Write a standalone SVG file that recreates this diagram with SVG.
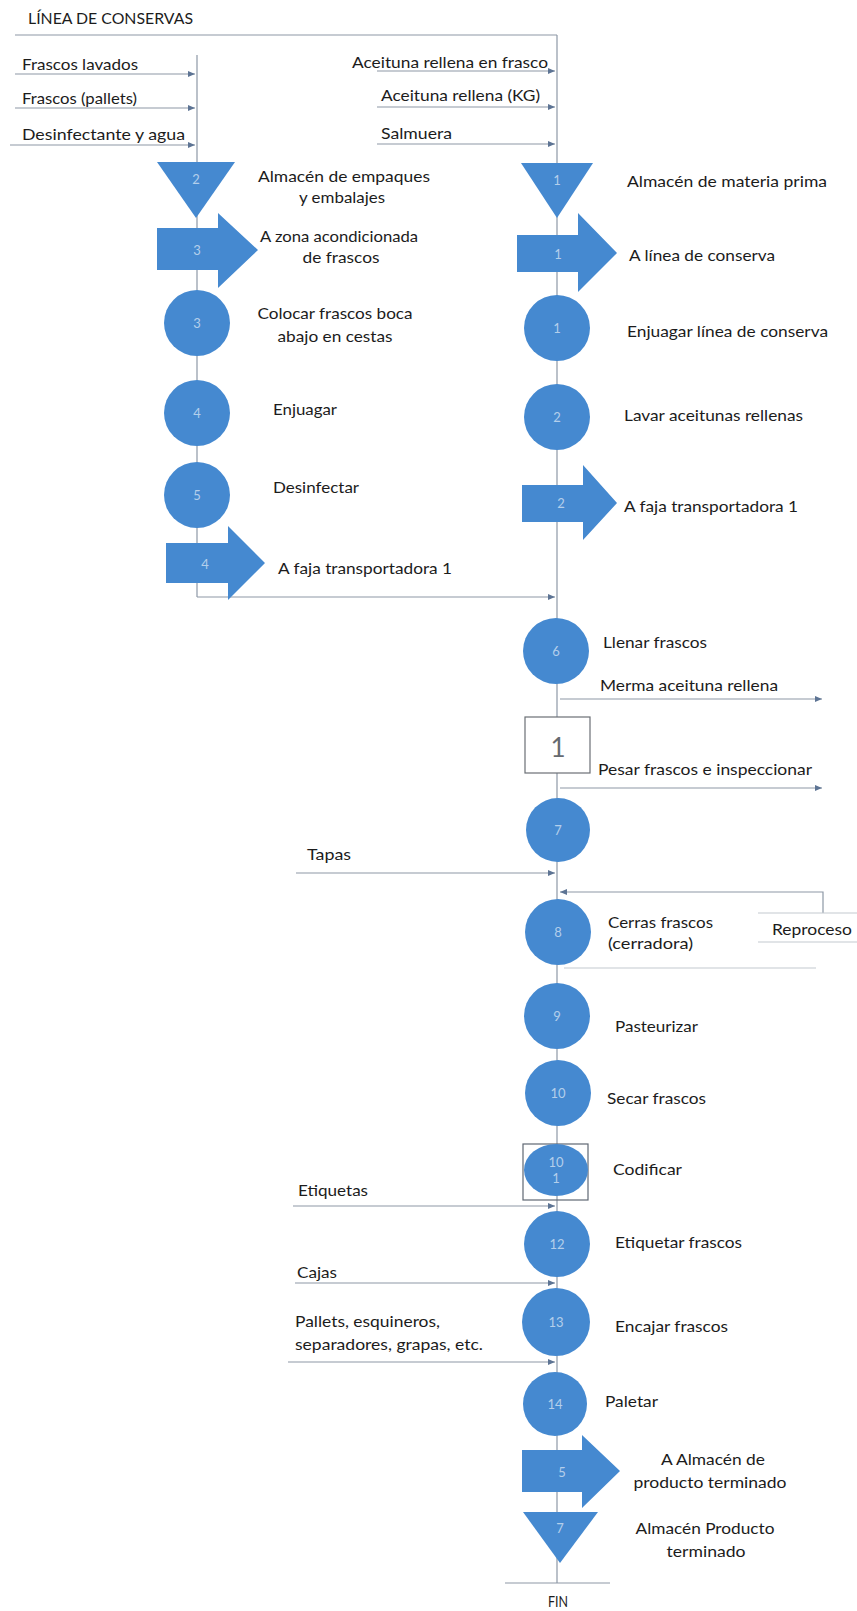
<svg xmlns="http://www.w3.org/2000/svg" width="857" height="1611" viewBox="0 0 857 1611">
  <style>
    .shape { fill: #4589d0; }
    .num { fill: #ffffff; fill-opacity: 0.6; font-family: Lato, "Liberation Sans", sans-serif; font-size: 13px; text-anchor: middle; dominant-baseline: central; }
    .lbl { fill: #1c1c1c; font-family: Lato, "Liberation Sans", sans-serif; font-size: 15px; }
    .mid { text-anchor: middle; }
    .conn { stroke: #8d98a6; stroke-width: 1.2; fill: none; }
    .flow { stroke: #8d98a6; stroke-width: 1.2; fill: none; marker-end: url(#tip); }
    .faint { stroke: #c4c9cf; stroke-width: 1.2; fill: none; }
  </style>
  <defs>
    <marker id="tip" markerUnits="userSpaceOnUse" markerWidth="7" markerHeight="7" refX="7" refY="3.5" orient="auto">
      <path d="M0,0.5 L7,3.5 L0,6.5 z" fill="#5d7494"/>
    </marker>
  </defs>

  <rect width="857" height="1611" fill="#ffffff"/>

  <!-- title -->
  <text class="lbl" x="28" y="24" textLength="165" lengthAdjust="spacingAndGlyphs">LÍNEA DE CONSERVAS</text>

  <!-- flow lines -->
  <g id="connectors">
    <line class="conn" x1="15" y1="35" x2="557" y2="35"/>
    <line class="conn" x1="197" y1="55" x2="197" y2="597"/>
    <line class="conn" x1="557" y1="35" x2="557" y2="1583"/>
    <line class="conn" x1="505" y1="1583" x2="610" y2="1583"/>

    <!-- inputs, left column -->
    <line class="flow" x1="15" y1="74" x2="195" y2="74"/>
    <line class="flow" x1="15" y1="108" x2="195" y2="108"/>
    <line class="flow" x1="10" y1="145" x2="195" y2="145"/>
    <!-- inputs, right column -->
    <line class="flow" x1="377" y1="71" x2="555" y2="71"/>
    <line class="flow" x1="377" y1="107" x2="555" y2="107"/>
    <line class="flow" x1="377" y1="144" x2="555" y2="144"/>

    <!-- jars join the main line -->
    <line class="flow" x1="197" y1="597" x2="555" y2="597"/>

    <!-- outputs -->
    <line class="flow" x1="560" y1="699" x2="822" y2="699"/>
    <line class="flow" x1="560" y1="788" x2="822" y2="788"/>

    <!-- reprocess loop -->
    <polyline class="flow" points="823,913 823,892 560,892"/>
    <line class="faint" x1="564" y1="968" x2="816" y2="968"/>

    <!-- packaging inputs -->
    <line class="flow" x1="296" y1="873" x2="555" y2="873"/>
    <line class="flow" x1="293" y1="1206" x2="555" y2="1206"/>
    <line class="flow" x1="295" y1="1283" x2="555" y2="1283"/>
    <line class="flow" x1="288" y1="1362" x2="555" y2="1362"/>
  </g>

  <!-- input labels -->
  <g id="inputs">
    <text class="lbl" x="22" y="70" textLength="116" lengthAdjust="spacingAndGlyphs">Frascos lavados</text>
    <text class="lbl" x="22" y="104" textLength="115" lengthAdjust="spacingAndGlyphs">Frascos (pallets)</text>
    <text class="lbl" x="22" y="140" textLength="163" lengthAdjust="spacingAndGlyphs">Desinfectante y agua</text>
    <text class="lbl" x="352" y="68" textLength="196" lengthAdjust="spacingAndGlyphs">Aceituna rellena en frasco</text>
    <text class="lbl" x="381" y="101" textLength="159" lengthAdjust="spacingAndGlyphs">Aceituna rellena (KG)</text>
    <text class="lbl" x="381" y="139" textLength="71" lengthAdjust="spacingAndGlyphs">Salmuera</text>
    <text class="lbl" x="307" y="860" textLength="44" lengthAdjust="spacingAndGlyphs">Tapas</text>
    <text class="lbl" x="298" y="1196" textLength="70" lengthAdjust="spacingAndGlyphs">Etiquetas</text>
    <text class="lbl" x="297" y="1278" textLength="40" lengthAdjust="spacingAndGlyphs">Cajas</text>
    <text class="lbl" x="295" y="1327" textLength="145" lengthAdjust="spacingAndGlyphs">Pallets, esquineros,</text>
    <text class="lbl" x="295" y="1350" textLength="188" lengthAdjust="spacingAndGlyphs">separadores, grapas, etc.</text>
  </g>

  <!-- left column: jars -->
  <g id="store-2">
    <polygon class="shape" points="157,162 235,162 196,218"/>
    <text class="num" x="196" y="179">2</text>
    <text class="lbl mid" x="344" y="182" textLength="172" lengthAdjust="spacingAndGlyphs">Almacén de empaques</text>
    <text class="lbl mid" x="342" y="203" textLength="86" lengthAdjust="spacingAndGlyphs">y embalajes</text>
  </g>
  <g id="move-3">
    <path class="shape" d="M157,228 H218 V213 L258,250 L218,288 V270 H157 Z"/>
    <text class="num" x="197" y="250">3</text>
    <text class="lbl mid" x="339" y="242" textLength="158" lengthAdjust="spacingAndGlyphs">A zona acondicionada</text>
    <text class="lbl mid" x="341" y="263" textLength="77" lengthAdjust="spacingAndGlyphs">de frascos</text>
  </g>
  <g id="op-3">
    <circle class="shape" cx="197" cy="323" r="33"/>
    <text class="num" x="197" y="323">3</text>
    <text class="lbl mid" x="335" y="319" textLength="155" lengthAdjust="spacingAndGlyphs">Colocar frascos boca</text>
    <text class="lbl mid" x="335" y="342" textLength="115" lengthAdjust="spacingAndGlyphs">abajo en cestas</text>
  </g>
  <g id="op-4">
    <circle class="shape" cx="197" cy="413" r="33"/>
    <text class="num" x="197" y="413">4</text>
    <text class="lbl" x="273" y="415" textLength="64" lengthAdjust="spacingAndGlyphs">Enjuagar</text>
  </g>
  <g id="op-5">
    <circle class="shape" cx="197" cy="495" r="33"/>
    <text class="num" x="197" y="495">5</text>
    <text class="lbl" x="273" y="493" textLength="86" lengthAdjust="spacingAndGlyphs">Desinfectar</text>
  </g>
  <g id="move-4">
    <path class="shape" d="M166,543 H228 V526 L265,563 L228,600 V583 H166 Z"/>
    <text class="num" x="205" y="564">4</text>
    <text class="lbl" x="278" y="574" textLength="174" lengthAdjust="spacingAndGlyphs">A faja transportadora 1</text>
  </g>

  <!-- right column: olives -->
  <g id="store-1">
    <polygon class="shape" points="521,163 593,163 557,218"/>
    <text class="num" x="557" y="180">1</text>
    <text class="lbl" x="627" y="187" textLength="200" lengthAdjust="spacingAndGlyphs">Almacén de materia prima</text>
  </g>
  <g id="move-1">
    <path class="shape" d="M517,235 H578 V213 L617,253 L578,292 V272 H517 Z"/>
    <text class="num" x="558" y="254">1</text>
    <text class="lbl" x="629" y="261" textLength="146" lengthAdjust="spacingAndGlyphs">A línea de conserva</text>
  </g>
  <g id="op-1">
    <circle class="shape" cx="557" cy="328" r="33"/>
    <text class="num" x="557" y="328">1</text>
    <text class="lbl" x="627" y="337" textLength="201" lengthAdjust="spacingAndGlyphs">Enjuagar línea de conserva</text>
  </g>
  <g id="op-2">
    <circle class="shape" cx="557" cy="417" r="33"/>
    <text class="num" x="557" y="417">2</text>
    <text class="lbl" x="624" y="421" textLength="179" lengthAdjust="spacingAndGlyphs">Lavar aceitunas rellenas</text>
  </g>
  <g id="move-2">
    <path class="shape" d="M522,485 H583 V465 L617,503 L583,540 V522 H522 Z"/>
    <text class="num" x="561" y="503">2</text>
    <text class="lbl" x="624" y="512" textLength="174" lengthAdjust="spacingAndGlyphs">A faja transportadora 1</text>
  </g>

  <!-- main line -->
  <g id="op-6">
    <circle class="shape" cx="556" cy="651" r="33"/>
    <text class="num" x="556" y="651">6</text>
    <text class="lbl" x="603" y="648" textLength="104" lengthAdjust="spacingAndGlyphs">Llenar frascos</text>
  </g>
  <g id="waste">
    <text class="lbl" x="600" y="691" textLength="178" lengthAdjust="spacingAndGlyphs">Merma aceituna rellena</text>
  </g>
  <g id="insp-1">
    <rect x="525" y="717" width="65" height="56" fill="#ffffff" stroke="#6b6f75" stroke-width="1.2"/>
    <text x="558" y="747" fill="#666a70" font-family="Lato, 'Liberation Sans', sans-serif" font-size="26" text-anchor="middle" dominant-baseline="central">1</text>
    <text class="lbl" x="598" y="775" textLength="214" lengthAdjust="spacingAndGlyphs">Pesar frascos e inspeccionar</text>
  </g>
  <g id="op-7">
    <circle class="shape" cx="558" cy="830" r="32"/>
    <text class="num" x="558" y="830">7</text>
  </g>
  <g id="op-8">
    <circle class="shape" cx="558" cy="932" r="33"/>
    <text class="num" x="558" y="932">8</text>
    <text class="lbl" x="608" y="928" textLength="105" lengthAdjust="spacingAndGlyphs">Cerras frascos</text>
    <text class="lbl" x="608" y="949" textLength="85" lengthAdjust="spacingAndGlyphs">(cerradora)</text>
  </g>
  <g id="reprocess">
    <line class="faint" x1="758" y1="913" x2="857" y2="913"/>
    <line class="faint" x1="758" y1="942" x2="857" y2="942"/>
    <text class="lbl" x="772" y="935" textLength="80" lengthAdjust="spacingAndGlyphs">Reproceso</text>
  </g>
  <g id="op-9">
    <circle class="shape" cx="557" cy="1016" r="33"/>
    <text class="num" x="557" y="1016">9</text>
    <text class="lbl" x="615" y="1032" textLength="83" lengthAdjust="spacingAndGlyphs">Pasteurizar</text>
  </g>
  <g id="op-10">
    <circle class="shape" cx="558" cy="1093" r="33"/>
    <text class="num" x="558" y="1093">10</text>
    <text class="lbl" x="607" y="1104" textLength="99" lengthAdjust="spacingAndGlyphs">Secar frascos</text>
  </g>
  <g id="op-insp-11">
    <rect x="523" y="1144" width="65" height="56" fill="none" stroke="#5f6873" stroke-width="1.2"/>
    <ellipse class="shape" cx="556" cy="1170" rx="32" ry="26"/>
    <text class="num" x="556" y="1162" font-size="10">10</text>
    <text class="num" x="556" y="1178" font-size="10">1</text>
    <text class="lbl" x="613" y="1175" textLength="69" lengthAdjust="spacingAndGlyphs">Codificar</text>
  </g>
  <g id="op-12">
    <circle class="shape" cx="557" cy="1244" r="33"/>
    <text class="num" x="557" y="1244">12</text>
    <text class="lbl" x="615" y="1248" textLength="127" lengthAdjust="spacingAndGlyphs">Etiquetar frascos</text>
  </g>
  <g id="op-13">
    <circle class="shape" cx="556" cy="1322" r="34"/>
    <text class="num" x="556" y="1322">13</text>
    <text class="lbl" x="615" y="1332" textLength="113" lengthAdjust="spacingAndGlyphs">Encajar frascos</text>
  </g>
  <g id="op-14">
    <circle class="shape" cx="555" cy="1404" r="32"/>
    <text class="num" x="555" y="1404">14</text>
    <text class="lbl" x="605" y="1407" textLength="53" lengthAdjust="spacingAndGlyphs">Paletar</text>
  </g>
  <g id="move-5">
    <path class="shape" d="M522,1450 H582 V1435 L620,1471 L582,1508 V1492 H522 Z"/>
    <text class="num" x="562" y="1472">5</text>
    <text class="lbl mid" x="713" y="1465" textLength="104" lengthAdjust="spacingAndGlyphs">A Almacén de</text>
    <text class="lbl mid" x="710" y="1488" textLength="153" lengthAdjust="spacingAndGlyphs">producto terminado</text>
  </g>
  <g id="store-7">
    <polygon class="shape" points="523,1512 598,1512 560,1563"/>
    <text class="num" x="560" y="1528">7</text>
    <text class="lbl mid" x="705" y="1534" textLength="139" lengthAdjust="spacingAndGlyphs">Almacén Producto</text>
    <text class="lbl mid" x="706" y="1557" textLength="79" lengthAdjust="spacingAndGlyphs">terminado</text>
  </g>
  <g id="end">
    <text class="lbl mid" x="558" y="1607" textLength="20" lengthAdjust="spacingAndGlyphs">FIN</text>
  </g>
</svg>
